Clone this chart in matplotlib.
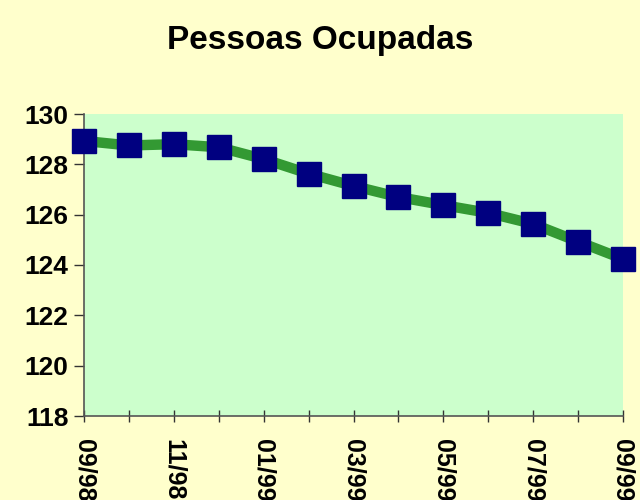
import numpy as np
import matplotlib
matplotlib.use("Agg")
import matplotlib.pyplot as plt

# dados
meses = ["09/98", "10/98", "11/98", "12/98", "01/99", "02/99", "03/99",
         "04/99", "05/99", "06/99", "07/99", "08/99", "09/99"]
ocupadas = [128.93, 128.75, 128.80, 128.68, 128.21, 127.63, 127.14,
            126.70, 126.38, 126.07, 125.63, 124.93, 124.24]

plt.rcParams['font.family'] = ['Liberation Sans', 'DejaVu Sans']

fig = plt.figure(figsize=(6.4, 5.0), dpi=100, facecolor='#FFFFCC')
ax = fig.add_axes([84 / 640, 1 - 416 / 500, (623 - 84) / 640, (416 - 114) / 500])
ax.set_facecolor('#CCFFCC')

x = np.arange(len(meses))
ax.plot(x, ocupadas, color='#339933', lw=7.5, zorder=2, solid_joinstyle='round')
ax.plot(x, ocupadas, ls='none', marker='s', ms=17, mfc='#000080',
        mec='#000080', zorder=3, clip_on=False)

ax.set_xlim(0, len(meses) - 1)
ax.set_ylim(118, 130)
ax.set_yticks(np.arange(118, 131, 2))
ax.set_xticks(x)
ax.set_xticklabels([m if i % 2 == 0 else "" for i, m in enumerate(meses)],
                   rotation=-90, fontsize=18, fontweight='bold')
for lab in ax.get_yticklabels():
    lab.set_fontsize(19)
    lab.set_fontweight('bold')

for s in ['top', 'right']:
    ax.spines[s].set_visible(False)
for s in ['left', 'bottom']:
    ax.spines[s].set_color('#555555')
    ax.spines[s].set_linewidth(1.2)
ax.tick_params(axis='x', direction='inout', length=9, width=1, color='#333333', pad=12)
ax.tick_params(axis='y', direction='out', length=7, width=1, color='#333333', pad=4)

fig.text(0.5, 1 - 40 / 500, "Pessoas Ocupadas", ha='center', va='center',
         fontsize=24, fontweight='bold')

fig.savefig("out.png", dpi=100, facecolor=fig.get_facecolor())
